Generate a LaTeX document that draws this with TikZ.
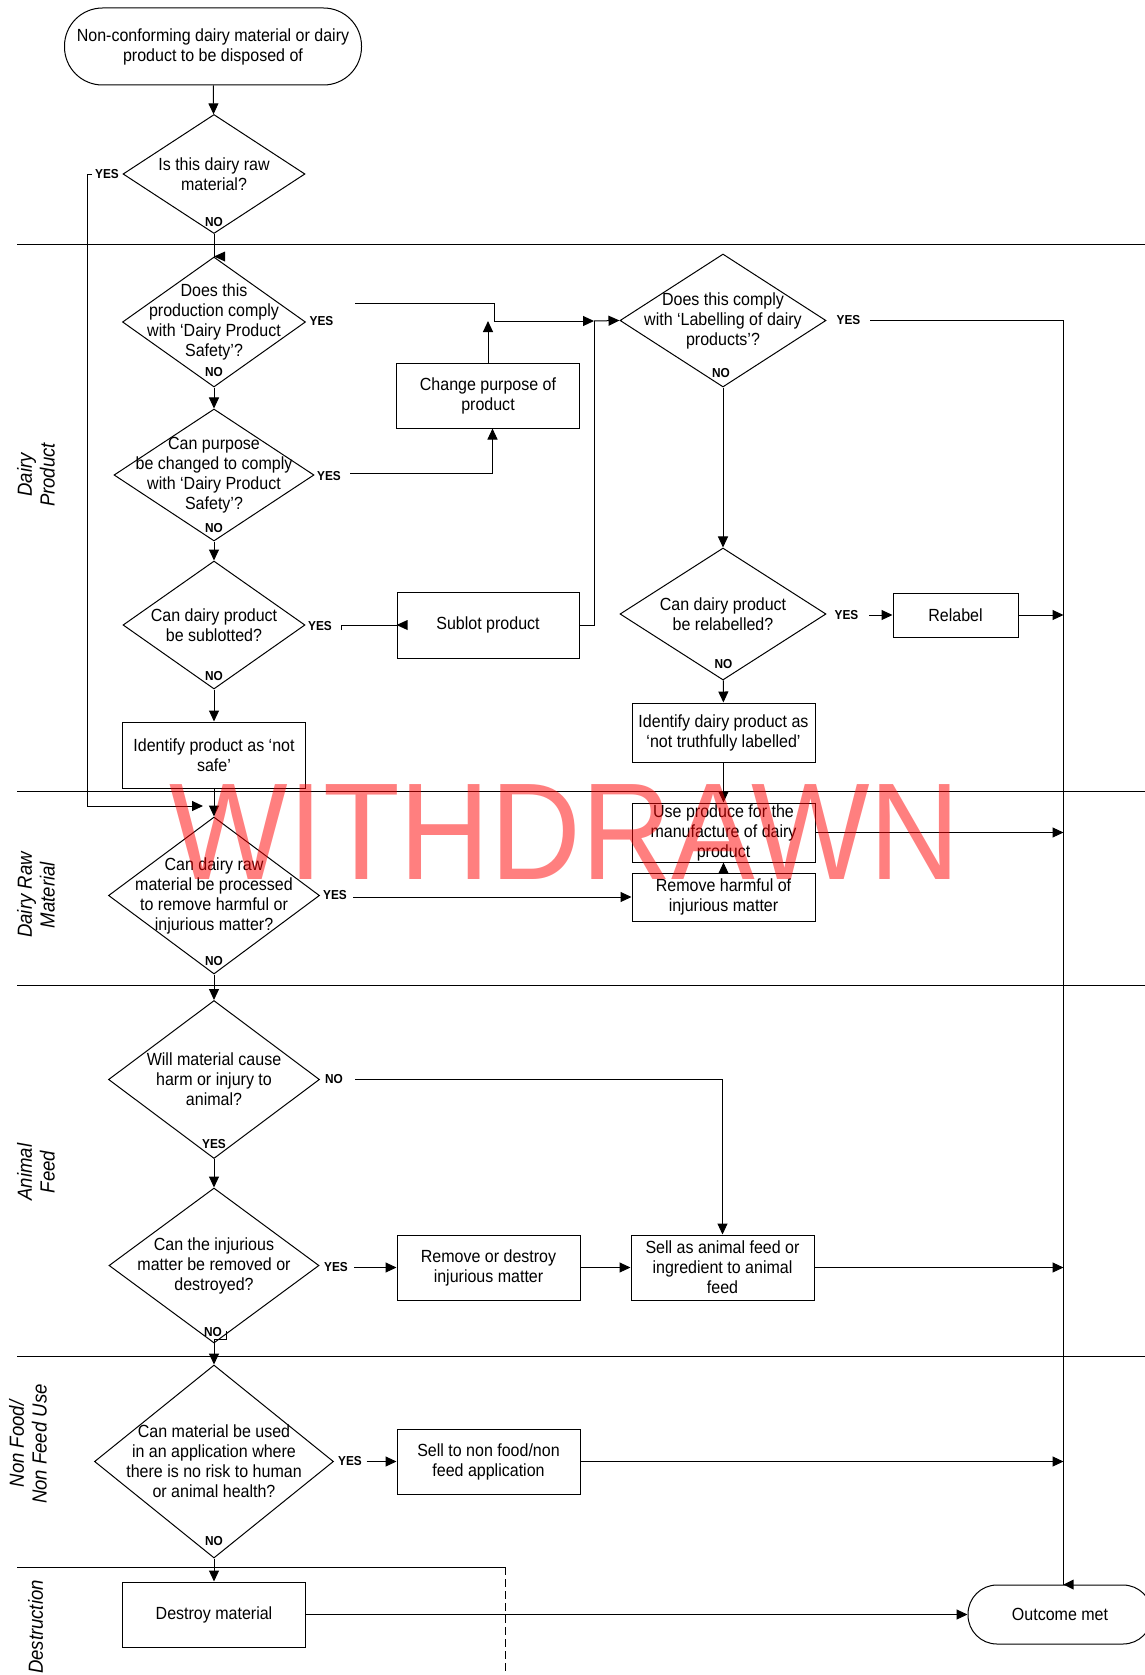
\documentclass[tikz,border=0pt]{standalone}
\usepackage{fontspec}
\setmainfont[FakeStretch=0.91]{Liberation Sans}
\usetikzlibrary{shapes.geometric, arrows.meta, calc}
\definecolor{stampred}{RGB}{255,0,0}

\begin{document}
\begin{tikzpicture}[
  x=0.5pt, y=-0.5pt, line width=0.5pt,
  font=\fontsize{8.8}{10}\selectfont,
  every node/.style={inner sep=0pt},
  term/.style={draw, rectangle, align=center},
  proc/.style={draw, rectangle, minimum width=91.5pt, minimum height=32.5pt, align=center},
  decide/.style={draw, diamond},
  qtext/.style={align=center},
  yn/.style={font=\fontsize{6.5}{7}\selectfont\bfseries},
  lane/.style={rotate=90, align=center, font=\fontsize{10.2}{11.3}\selectfont\itshape},
  >={Triangle[length=5.5pt, width=5pt]}
]
\useasboundingbox (0,0) rectangle (1145,1675);
% swim lanes
\draw (17,244) -- (1145,244);
\draw (17,791) -- (1145,791);
\draw (17,985) -- (1145,985);
\draw (17,1356) -- (1145,1356);
\draw (17,1567) -- (505,1567);
\draw[dash pattern=on 4pt off 2pt] (505,1567) -- (505,1675);
\node[lane] (ldp) at (36,475) {Dairy\\Product};
\node[lane] (ldr) at (36,895) {Dairy Raw\\Material};
\node[lane] (laf) at (36,1172) {Animal\\Feed};
\node[lane] (lnf) at (28,1444) {Non Food/\\Non Feed Use};
\node[lane] (lds) at (35.5,1627) {Destruction};
% left column
\node[term, rounded corners=19pt, minimum width=148.5pt, minimum height=38.5pt] (start) at (213,46.5) {Non-conforming dairy material or dairy\\product to be disposed of};
\node[decide, minimum width=91pt, minimum height=59.5pt, label={[qtext]center:{Is this dairy raw\\material?}}] (d1) at (214,174) {};
\node[decide, minimum width=91.5pt, minimum height=65pt, label={[qtext]center:{Does this\\production comply\\with ‘Dairy Product\\Safety’?}}] (d2) at (214,322) {};
\node[decide, minimum width=100pt, minimum height=66pt, label={[qtext]center:{Can purpose\\be changed to comply\\with ‘Dairy Product\\Safety’?}}] (d3) at (214,475) {};
\node[decide, minimum width=91pt, minimum height=64pt, label={[qtext]center:{Can dairy product\\be sublotted?}}] (d4) at (214,625) {};
\node[proc, minimum height=33pt] (notsafe) at (214,755) {Identify product as ‘not\\safe’};
\node[decide, minimum width=105.5pt, minimum height=78.5pt, label={[qtext]center:{Can dairy raw\\material be processed\\to remove harmful or\\injurious matter?}}] (d6) at (214,895.5) {};
\node[decide, minimum width=105.5pt, minimum height=79pt, label={[qtext]center:{Will material cause\\harm or injury to\\animal?}}] (d8) at (214,1079.5) {};
\node[decide, minimum width=105pt, minimum height=77.5pt, label={[qtext]center:{Can the injurious\\matter be removed or\\destroyed?}}] (d9) at (214,1265.5) {};
\node[decide, minimum width=119.5pt, minimum height=96.5pt, label={[qtext]center:{Can material be used\\in an application where\\there is no risk to human\\or animal health?}}] (d10) at (214,1461.5) {};
\node[proc] (destroy) at (214,1614.5) {Destroy material};
% middle and right columns
\node[proc] (purpose) at (488,395.5) {Change purpose of\\product};
\node[proc, minimum width=91pt, minimum height=33pt] (sublot) at (488,625) {Sublot product};
\node[proc] (rmdestroy) at (488.5,1267.5) {Remove or destroy\\injurious matter};
\node[proc] (sellfeed) at (722.5,1267.5) {Sell as animal feed or\\ingredient to animal\\feed};
\node[proc] (sellnon) at (488.5,1461.5) {Sell to non food/non\\feed application};
\node[decide, minimum width=103pt, minimum height=66.5pt, label={[qtext]center:{Does this comply\\with ‘Labelling of dairy\\products’?}}] (d5) at (723,320.5) {};
\node[decide, minimum width=103pt, minimum height=66pt, label={[qtext]center:{Can dairy product\\be relabelled?}}] (d7) at (723,614) {};
\node[proc, minimum width=62.5pt, minimum height=22pt] (relabel) at (955.5,615) {Relabel};
\node[proc, minimum height=29.5pt] (nottrue) at (723.5,732.5) {Identify dairy product as\\‘not truthfully labelled’};
\node[proc, minimum height=29.5pt] (useprod) at (723.5,832.5) {Use produce for the\\manufacture of dairy\\product};
\node[proc, minimum height=24pt] (rmharm) at (723.5,897) {Remove harmful of\\injurious matter};
\node[term, rounded corners=14.5pt, minimum width=92pt, minimum height=29.5pt] (outcome) at (1060,1614.5) {Outcome met};
% yes / no labels
\node[yn] (y1) at (107,174) {YES};
\node[yn] (n1) at (214,222.5) {NO};
\node[yn] (y2) at (321.5,321) {YES};
\node[yn] (n2) at (214,372.5) {NO};
\node[yn] (y3) at (329,476) {YES};
\node[yn] (n3) at (214,528) {NO};
\node[yn] (y4) at (320,626) {YES};
\node[yn] (n4) at (214,676) {NO};
\node[yn] (y5) at (848.5,320) {YES};
\node[yn] (n5) at (721,373) {NO};
\node[yn] (y7) at (846.5,615) {YES};
\node[yn] (n7) at (723.5,664) {NO};
\node[yn] (y6) at (335,895) {YES};
\node[yn] (n6) at (214,961) {NO};
\node[yn] (n8) at (334,1079) {NO};
\node[yn] (y8) at (214,1144) {YES};
\node[yn] (y9) at (336,1267) {YES};
\node[yn] (n9) at (213,1332) {NO};
\node[yn] (y10) at (350,1461) {YES};
\node[yn] (n10) at (214,1541) {NO};
% connector ends
\coordinate (y1s) at (92,174);
\coordinate (y1e) at (203,806);
\coordinate (y2s) at (355,303);
\coordinate (y2k) at (494,321);
\coordinate (merge) at (594,321);
\coordinate (y3s) at (350,473);
\coordinate (y4s) at (341,630);
\coordinate (y5s) at (870,320);
\coordinate (rail) at (1063.5,320);
\coordinate (y7s) at (869,615);
\coordinate (y6s) at (353,897);
\coordinate (n8s) at (355,1079);
\coordinate (y9s) at (354,1267.5);
\coordinate (n9s) at (226.5,1331);
\coordinate (y10s) at (366.5,1461.5);
% connectors
\draw[->] (start) -- (d1);
\draw[->] (y1s) -- ++(-4.5,0) |- (y1e);
\draw (d1.south) -- (d2.north);
\fill (d2.north) -- ++(11,-5) -- ++(0,10) -- cycle;
\draw[->] (y2s) -| (y2k) -- (merge);
\draw[->] (merge) -- (d5.west);
\draw[->] (purpose.north) -- (purpose.north |- merge);
\draw[->] (d2) -- (d3);
\draw[->] (y3s) -| ($(purpose.south)+(4.5,0)$);
\draw[->] (d3) -- (d4);
\draw (y4s) |- (sublot.west);
\fill (sublot.west) -- ++(11,-5) -- ++(0,10) -- cycle;
\draw (sublot.east) -| (merge);
\draw[->] (d4) -- (notsafe);
\draw[->] (notsafe) -- (d6);
\draw (y5s) -- (rail) -- (rail |- outcome.north);
\fill (rail |- outcome.north) -- ++(10,-5) -- ++(0,10) -- cycle;
\draw[->] (d5) -- (d7);
\draw[->] (y7s) -- (relabel.west);
\draw[->] (relabel.east) -- (relabel.east -| rail);
\draw[->] (d7) -- (nottrue);
\draw[->] (nottrue) -- (useprod);
\draw[->] (useprod.east) -- (useprod.east -| rail);
\draw[->] (y6s) -- (rmharm.west);
\draw[->] (rmharm) -- (useprod);
\draw[->] (d6) -- (d8);
\draw[->] (n8s) -| (sellfeed.north);
\draw[->] (d8) -- (d9);
\draw[->] (y9s) -- (rmdestroy.west);
\draw[->] (rmdestroy) -- (sellfeed);
\draw[->] (sellfeed.east) -- (sellfeed.east -| rail);
\draw[->] (n9s) |- ($(d9.south)+(0,-4)$) -- (d10.north);
\draw[->] (y10s) -- (sellnon.west);
\draw[->] (sellnon.east) -- (sellnon.east -| rail);
\draw[->] (d10) -- (destroy);
\draw[->] (destroy) -- (outcome);
% stamp
\node[font=\fontsize{69}{69}\selectfont, text=stampred, opacity=0.5, anchor=base] (stamp) at (565,879) {WITHDRAWN};
\end{tikzpicture}
\end{document}
